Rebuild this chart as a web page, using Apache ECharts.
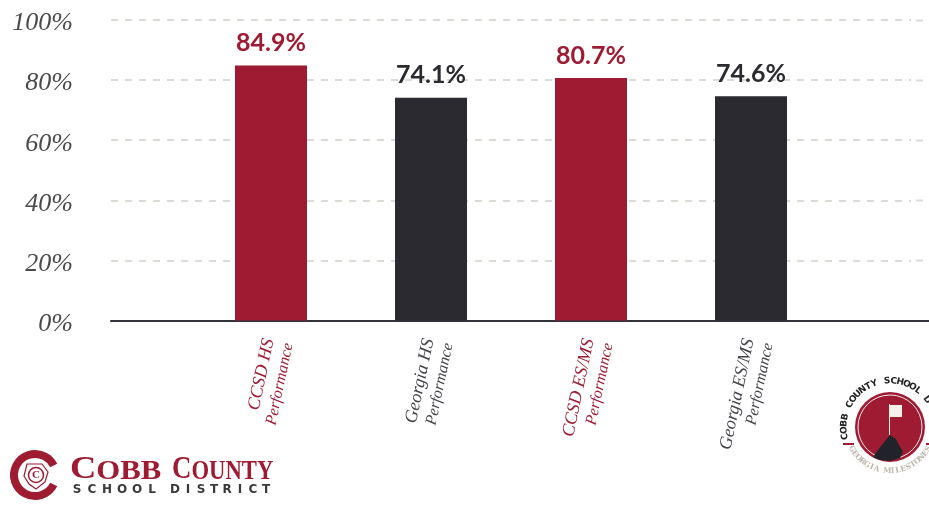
<!DOCTYPE html>
<html><head><meta charset="utf-8">
<style>html,body{margin:0;padding:0;background:#fff}#c{width:929px;height:506px}</style>
<script src="https://cdn.jsdelivr.net/npm/echarts@6/dist/echarts.min.js"></script>
</head><body><div id="c"></div>
<script>
const categories = ["", "CCSD HS\nPerformance", "Georgia HS\nPerformance", "CCSD ES/MS\nPerformance", "Georgia ES/MS\nPerformance", ""];
const values = [null, 84.9, 74.1, 80.7, 74.6, null];
const yTicks = [0, 20, 40, 60, 80, 100];
const RED = "#9e1b32", DARK = "#2a2a30";
const barColors = [null, RED, DARK, RED, DARK, null];

function arcText(str, cx, cy, r, startDeg, endDeg, opts, top) {
  const n = str.length, out = [];
  for (let i = 0; i < n; i++) {
    const deg = startDeg + (endDeg - startDeg) * i / (n - 1);
    const a = deg * Math.PI / 180;
    out.push({
      type: "text", x: cx + r * Math.cos(a), y: cy + r * Math.sin(a),
      rotation: top ? -(a + Math.PI / 2) : -(a - Math.PI / 2),
      style: Object.assign({ text: str[i], align: "center", verticalAlign: "middle" }, opts)
    });
  }
  return out;
}
function spaced(str, x, y, pitch, opts) {
  return str.split("").map((ch, i) => ({
    type: "text", x: x + i * pitch, y,
    style: Object.assign({ text: ch, align: "center", verticalAlign: "middle" }, opts)
  }));
}
const logoRich = {
  a: { fill: RED, fontFamily: "Liberation Serif", fontWeight: 700, fontSize: 32, verticalAlign: "bottom" },
  b: { fill: RED, fontFamily: "Liberation Serif", fontWeight: 700, fontSize: 27, verticalAlign: "bottom" }
};

const chart = echarts.init(document.getElementById("c"), null, { renderer: "canvas" });
const cx = 890, cy = 427;
const logoSans = { fill: "#3a3a3a", fontFamily: "DejaVu Sans", fontWeight: 700, fontSize: 12 };
chart.setOption({
  animation: false,
  backgroundColor: "#fff",
  grid: { left: 111, top: 20, width: 800, height: 300.5, outerBoundsMode: "none" },
  xAxis: {
    type: "category", data: categories, boundaryGap: false,
    axisTick: { show: false },
    axisLine: { lineStyle: { color: "#33333a", width: 2 } },
    axisLabel: {
      interval: 0, rotate: 78, margin: 19, padding: [16, 0, 0, 0],
      formatter: (v) => {
        if (!v) return "";
        const [a, b] = v.split("\n");
        const k = v.startsWith("CCSD") ? "r" : "k";
        return `{${k}1|${a}}\n{${k}2|${b}}`;
      },
      rich: {
        r1: { color: RED, fontFamily: "Liberation Serif", fontStyle: "italic", fontSize: 18, lineHeight: 20 },
        r2: { color: RED, fontFamily: "Liberation Serif", fontStyle: "italic", fontSize: 16, lineHeight: 20 },
        k1: { color: "#44444a", fontFamily: "Liberation Serif", fontStyle: "italic", fontSize: 18, lineHeight: 20 },
        k2: { color: "#44444a", fontFamily: "Liberation Serif", fontStyle: "italic", fontSize: 16, lineHeight: 20 }
      }
    }
  },
  yAxis: {
    type: "value", min: 0, max: 100, interval: 20,
    axisLine: { show: false }, axisTick: { show: false },
    axisLabel: {
      margin: 38, padding: [7, 0, 0, 0],
      formatter: (v) => yTicks.includes(v) ? `{n|${v}%}` : "",
      rich: { n: { color: "#4a4a4a", fontFamily: "Liberation Serif", fontStyle: "italic", fontSize: 26 } }
    },
    splitLine: { lineStyle: { color: "#dcdcd6", type: [7, 7], width: 2 } }
  },
  series: [{
    type: "bar", barWidth: 72,
    data: values.map((v, i) => v == null ? null : ({ value: v, itemStyle: { color: barColors[i] },
      label: { color: barColors[i] } })),
    label: {
      show: true, position: "top", distance: 10, fontFamily: "Lato", fontWeight: 700, fontSize: 25,
      formatter: (p) => p.value.toFixed(1) + "%"
    }
  }],
  graphic: [
    // axis and gridlines continue past the last tick to the page edge
    { type: "rect", shape: { x: 911, y: 320, width: 18, height: 2 }, style: { fill: "#33333a" } },
    ...[20, 80, 140, 200, 260].map(y => ({ type: "rect", shape: { x: 916, y: y - 1 + 0.5, width: 7, height: 2 },
      style: { fill: "#dcdcd6" } })),
    // left district logo
    { type: "arc", shape: { cx: 35, cy: 475, r: 21, startAngle: Math.PI * 0.15, endAngle: -Math.PI * 0.15, clockwise: true },
      style: { stroke: RED, lineWidth: 8, fill: null } },
    { type: "polygon", shape: { points: [[27, 464], [42, 464], [48, 472], [45, 482], [36, 489], [29, 484], [24, 476]] },
      style: { stroke: RED, lineWidth: 1.2, fill: "#fff" } },
    { type: "circle", shape: { cx: 36, cy: 475, r: 7.5 }, style: { stroke: RED, lineWidth: 1.5, fill: "#fff" } },
    { type: "text", x: 36, y: 475, style: { text: "C", align: "center", verticalAlign: "middle", fill: RED,
        fontFamily: "Liberation Serif", fontWeight: 700, fontSize: 11 } },
    { type: "text", x: 70, y: 470, scaleX: 1.14, style: { text: "{a|C}{b|OBB}", verticalAlign: "middle", rich: logoRich } },
    { type: "text", x: 172, y: 470, scaleX: 0.84, style: { text: "{a|C}{b|OUNTY}", verticalAlign: "middle", rich: logoRich } },
    ...spaced("SCHOOL", 77, 490, 15, logoSans),
    ...spaced("DISTRICT", 175, 490, 13, logoSans),
    // right milestones badge
    { type: "circle", shape: { cx, cy, r: 35 }, style: { fill: RED } },
    { type: "circle", shape: { cx, cy, r: 32 }, style: { fill: null, stroke: "#f2e8e8", lineWidth: 1 } },
    { type: "polygon", shape: { points: [[873, 457], [881, 446], [890, 435], [896, 439], [899, 445], [903, 452], [900, 458], [890, 461], [880, 460]] },
      style: { fill: "#22222a" } },
    { type: "line", shape: { x1: 889.5, y1: 404, x2: 889.5, y2: 435 }, style: { stroke: "#f4f0ea", lineWidth: 1 } },
    { type: "rect", shape: { x: 890, y: 405, width: 12, height: 12 }, style: { fill: "#f4f0ea" } },
    ...arcText("COBB COUNTY SCHOOL D", cx, cy, 46, -192, -36, { fill: "#222", fontFamily: "DejaVu Sans", fontWeight: 700, fontSize: 9 }, true),
    ...arcText("GEORGIA MILESTONES", cx, cy, 44, 150, 30, { fill: "#bdb6aa", fontFamily: "DejaVu Serif", fontWeight: 700, fontSize: 7.5 }, false),
    { type: "rect", shape: { x: 843, y: 443, width: 11, height: 2 }, style: { fill: RED } },
    { type: "rect", shape: { x: 926, y: 443, width: 3, height: 2 }, style: { fill: RED } }
  ]
});
</script></body></html>
